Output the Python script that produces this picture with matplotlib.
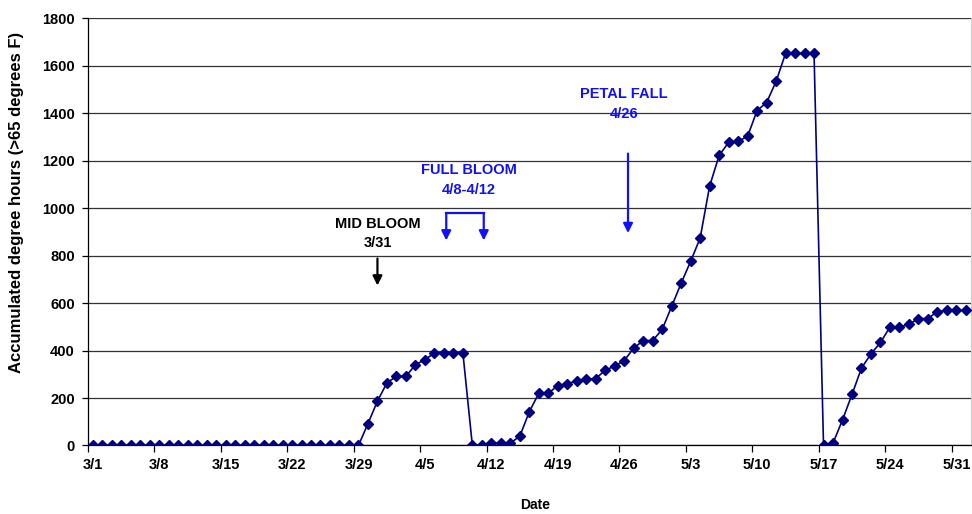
import matplotlib
matplotlib.use("Agg")
import matplotlib.pyplot as plt
import pandas as pd

plt.rcParams['font.family'] = ['Liberation Sans', 'DejaVu Sans']
plt.rcParams['font.weight'] = 'bold'

# accumulated degree hours, one value per day from 3/1 to 6/1
hours = [0] * 29 + [
    92, 187, 264, 291, 291, 340, 362, 389, 391, 391, 391,      # 3/30 - 4/9
    0, 4, 10, 10, 10, 39, 142, 220, 220, 252, 261, 271, 281,   # 4/10 - 4/22
    281, 318, 334, 358, 410, 442, 442, 489,                    # 4/23 - 4/30
    586, 684, 776, 874, 1093, 1222, 1277, 1281, 1303, 1411,    # 5/1 - 5/10
    1445, 1534, 1652, 1652, 1652, 1652,                        # 5/11 - 5/16
    0, 10, 108, 215, 326, 386, 434, 499, 499, 510, 535, 535,   # 5/17 - 5/28
    564, 569, 569, 569,                                        # 5/29 - 6/1
]
dates = pd.date_range('2000-03-01', periods=len(hours))
tick_labels = ['3/1', '3/8', '3/15', '3/22', '3/29', '4/5', '4/12', '4/19',
               '4/26', '5/3', '5/10', '5/17', '5/24', '5/31']

navy = '#000080'
blue = '#1010ff'

fig = plt.figure(figsize=(9.72, 5.14), dpi=100)
ax = fig.add_axes([0.0905, 0.1333, 0.9081, 0.8311])

x = list(range(len(dates)))
ax.plot(x, hours, color=navy, lw=1.2, marker='D', markersize=5,
        markeredgecolor=navy, markerfacecolor=navy, zorder=3)

ax.set_xlim(-0.5, len(dates) - 0.5)
ax.set_ylim(0, 1800)
ax.set_yticks(range(0, 1801, 200))
ax.yaxis.grid(True, color='0.2', lw=0.9)
ax.set_axisbelow(True)

# category axis: tick marks between days, labels under every 7th day
ax.set_xticks([i * 7 - 0.5 for i in range(len(tick_labels))])
ax.set_xticklabels([])
ax.set_xticks([i * 7 for i in range(len(tick_labels))], minor=True)
ax.set_xticklabels(tick_labels, minor=True)
ax.tick_params(axis='x', which='major', length=5, width=0.9, direction='out')
ax.tick_params(axis='x', which='minor', length=0, pad=9, labelsize=10.5)
ax.tick_params(axis='y', length=4.5, width=0.9, pad=5, labelsize=10.5)

ax.spines['top'].set_visible(False)
ax.spines['right'].set_color('0.8')
ax.spines['left'].set_linewidth(0.9)
ax.spines['bottom'].set_linewidth(0.9)

ax.set_xlabel('Date', fontsize=10, fontweight='bold', va='center')
ax.xaxis.set_label_coords(0.507, -0.139)
ax.set_ylabel('Accumulated degree hours (>65 degrees F)', fontsize=12,
              fontweight='bold', va='center', ha='center')
ax.yaxis.set_label_coords(-0.0804, 0.569)

arrow = dict(arrowstyle='-|>', lw=1.6, mutation_scale=14, shrinkA=0, shrinkB=0)

# mid bloom
ax.text(30, 932, 'MID BLOOM', ha='center', va='center', fontsize=10.5)
ax.text(30, 852, '3/31', ha='center', va='center', fontsize=10.5)
ax.annotate('', xy=(30, 674), xytext=(30, 788), arrowprops=dict(arrow, color='black'))

# full bloom
ax.text(39.6, 1159, 'FULL BLOOM', ha='center', va='center', fontsize=10.5, color=blue)
ax.text(39.6, 1078, '4/8-4/12', ha='center', va='center', fontsize=10.5, color=blue)
ax.plot([37.25, 41.2], [979, 979], color=blue, lw=1.6, solid_capstyle='projecting')
for bx in [37.25, 41.2]:
    ax.annotate('', xy=(bx, 864), xytext=(bx, 979), arrowprops=dict(arrow, color=blue))

# petal fall
ax.text(56.0, 1480, 'PETAL FALL', ha='center', va='center', fontsize=10.5, color=blue)
ax.text(56.0, 1398, '4/26', ha='center', va='center', fontsize=10.5, color=blue)
ax.annotate('', xy=(56.4, 895), xytext=(56.4, 1230), arrowprops=dict(arrow, color=blue))

fig.savefig('out.png', dpi=100)
